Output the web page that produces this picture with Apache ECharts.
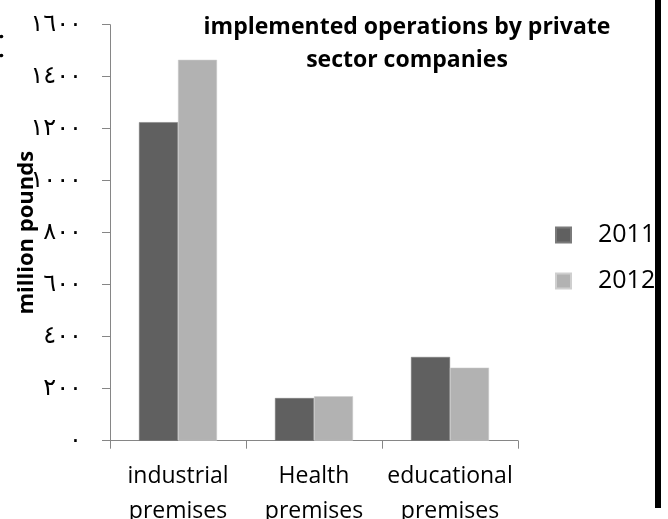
<!DOCTYPE html>
<html>
<head>
<meta charset="utf-8">
<script src="https://cdn.jsdelivr.net/npm/echarts@6/dist/echarts.min.js"></script>
<style>
html,body{margin:0;padding:0;background:#fff;}
#chart{width:668px;height:519px;}
</style>
</head>
<body>
<div id="chart"></div>
<script>
const categories = ['industrial\npremises', 'Health\npremises', 'educational\npremises'];
const seriesNames = ['2011', '2012'];
const values2011 = [1225, 164, 322];
const values2012 = [1465, 171, 281];
const yTickValues = [0, 200, 400, 600, 800, 1000, 1200, 1400, 1600];
const yTickLabels = ['٠', '٢٠٠', '٤٠٠', '٦٠٠', '٨٠٠', '١٠٠٠', '١٢٠٠', '١٤٠٠', '١٦٠٠'];
const titleText = 'implemented operations by private\nsector companies';
const yAxisName = 'million pounds';

const chart = echarts.init(document.getElementById('chart'), null, {renderer: 'canvas'});
const axisColor = '#868686';
const fontMain = '"Open Sans", sans-serif';

chart.setOption({
  animation: false,
  backgroundColor: '#ffffff',
  title: {
    text: titleText,
    left: 402,
    top: 6,
    textAlign: 'center',
    textStyle: {fontFamily: fontMain, fontWeight: 'bold', fontSize: 23, lineHeight: 33, color: '#000'}
  },
  legend: {
    orient: 'vertical',
    left: 550,
    top: 216,
    itemWidth: 15,
    itemHeight: 15,
    itemGap: 18,
    icon: 'rect',
    data: seriesNames,
    textStyle: {fontFamily: fontMain, fontSize: 25, lineHeight: 28, color: '#000', padding: [0, 0, 0, 22]}
  },
  grid: {left: 110, right: 150, top: 24.7, bottom: 78.3, containLabel: false, outerBoundsMode: 'none'},
  xAxis: {
    type: 'category',
    data: categories,
    axisLine: {lineStyle: {color: axisColor, width: 1}},
    axisTick: {show: true, length: 8, lineStyle: {color: axisColor}},
    axisLabel: {fontFamily: fontMain, fontSize: 23, lineHeight: 35, color: '#000', margin: 18, interval: 0}
  },
  yAxis: {
    type: 'value',
    min: 0,
    max: 1600,
    interval: 200,
    name: yAxisName,
    nameLocation: 'middle',
    nameRotate: 90,
    nameGap: 72,
    nameMoveOverlap: false,
    nameTextStyle: {fontFamily: fontMain, fontWeight: 'bold', fontSize: 22, color: '#000'},
    axisLine: {show: true, lineStyle: {color: axisColor, width: 1}},
    axisTick: {show: true, length: 8, lineStyle: {color: axisColor}},
    splitLine: {show: false},
    axisLabel: {
      fontFamily: '"DejaVu Sans", sans-serif',
      fontSize: 24,
      color: '#000',
      margin: 28,
      formatter: function (v) {
        const i = yTickValues.indexOf(v);
        return i >= 0 ? yTickLabels[i] : '';
      }
    }
  },
  series: [
    {
      name: seriesNames[0],
      type: 'bar',
      data: values2011,
      barWidth: 39,
      barGap: '0%',
      itemStyle: {color: '#606060', borderColor: '#7a7a7a', borderWidth: 0.5}
    },
    {
      name: seriesNames[1],
      type: 'bar',
      data: values2012,
      barWidth: 39,
      barGap: '0%',
      itemStyle: {color: '#b2b2b2', borderColor: '#cfcfcf', borderWidth: 0.5}
    }
  ],
  graphic: [
    {type: 'rect', left: 655, top: 0, shape: {width: 6, height: 508}, style: {fill: '#000'}},
    {type: 'circle', shape: {cx: 1.5, cy: 36.5, r: 1.8}, style: {fill: '#000'}},
    {type: 'circle', shape: {cx: 1.5, cy: 55.5, r: 1.8}, style: {fill: '#000'}}
  ]
});
</script>
</body>
</html>
